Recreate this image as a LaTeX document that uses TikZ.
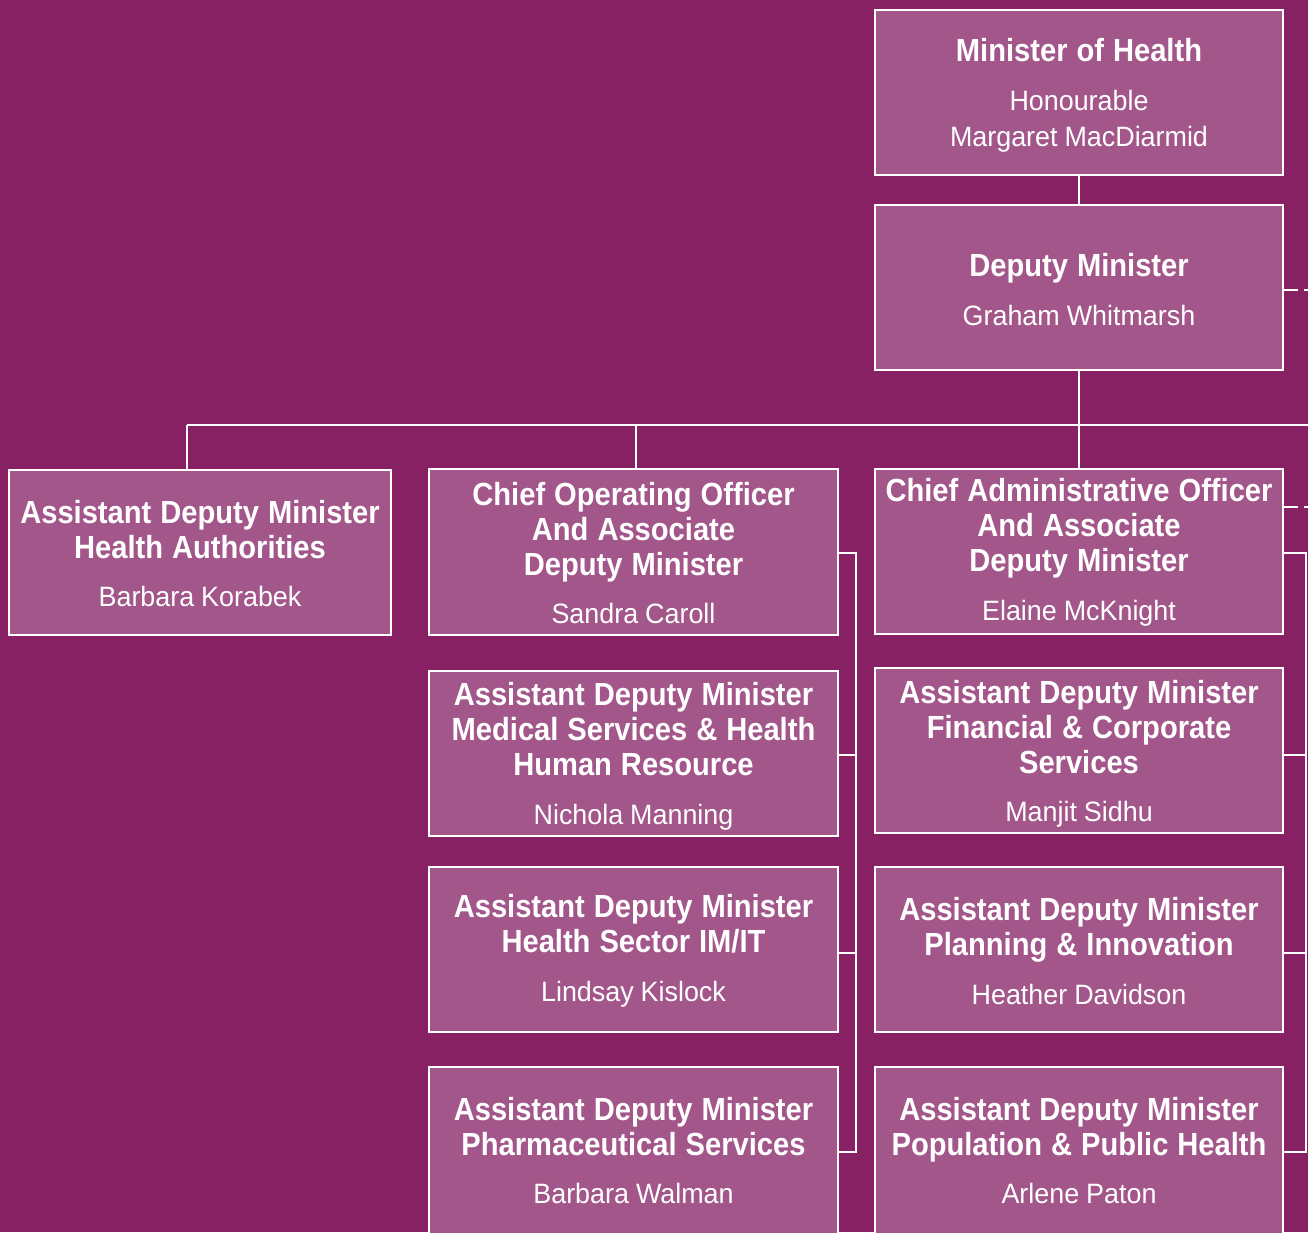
\documentclass[tikz,border=0pt]{standalone}
\usepackage{fontspec}
\setmainfont{Liberation Sans}
\newfontfamily\tfont{Liberation Sans}[FakeStretch=0.91]
\newfontfamily\nfont{Liberation Sans}[FakeStretch=0.96]
\newcommand\ttl{\tfont\bfseries\fontsize{32}{35}\selectfont\spaceskip=9pt\relax}
\newcommand\nm[2][-4pt]{\par\vspace{12.5pt}{\nfont\mdseries\fontsize{28}{36}\selectfont\spaceskip=7pt\relax #2\par}\vspace*{#1}}
\definecolor{bgc}{RGB}{136,32,100}
\definecolor{boxc}{RGB}{163,86,138}
\tikzset{
  orgbox/.style={draw=white, line width=2.5pt, fill=boxc, text=white,
    inner sep=0pt, align=center, text width=#1-4pt, minimum width=#1, minimum height=165pt},
  conn/.style={draw=white, line width=2.5pt},
  dconn/.style={draw=white, line width=2.5pt, dash pattern=on 14pt off 6pt}
}
\begin{document}
\begin{tikzpicture}[x=1pt,y=-1pt]
\fill[bgc] (0,0) rectangle (1308,1232);
\useasboundingbox (0,0) rectangle (1308,1232);

\node[orgbox=408pt] (min) at (1079,92.5) {\ttl Minister of Health\nm[-6pt]{Honourable\\Margaret MacDiarmid}};
\node[orgbox=408pt] (dep) at (1079,287.5) {\ttl Deputy Minister\nm{Graham Whitmarsh}};

\node[orgbox=382pt] (haut) at (200,552.5) {\ttl Assistant Deputy Minister\\Health Authorities\nm[-2pt]{Barbara Korabek}};
\node[orgbox=409pt, minimum height=166pt] (coo) at (633.5,552) {\ttl Chief Operating Officer\\And Associate\\Deputy Minister\nm[-2pt]{Sandra Caroll}};
\node[orgbox=408pt] (cao) at (1079,551.5) {\ttl Chief Administrative Officer\\And Associate\\Deputy Minister\nm[-2pt]{Elaine McKnight}};

\node[orgbox=409pt] (med) at (633.5,753.5) {\ttl Assistant Deputy Minister\\Medical Services \& Health\\Human Resource\nm[-6pt]{Nichola Manning}};
\node[orgbox=409pt] (imit) at (633.5,949.5) {\ttl Assistant Deputy Minister\\Health Sector IM/IT\nm[-3pt]{Lindsay Kislock}};
\node[orgbox=409pt, minimum height=175pt] (pharm) at (633.5,1154.5) {\ttl Assistant Deputy Minister\\Pharmaceutical Services\nm[8pt]{Barbara Walman}};

\node[orgbox=408pt] (fin) at (1079,750.5) {\ttl Assistant Deputy Minister\\Financial \& Corporate\\Services\nm[-7pt]{Manjit Sidhu}};
\node[orgbox=408pt] (plan) at (1079,949.5) {\ttl Assistant Deputy Minister\\Planning \& Innovation\nm[-3pt]{Heather Davidson}};
\node[orgbox=408pt, minimum height=175pt] (pop) at (1079,1154.5) {\ttl Assistant Deputy Minister\\Population \& Public Health\nm[8pt]{Arlene Paton}};

% connectors
\coordinate (b1) at (187,425);
\coordinate (b2) at (636,425);
\coordinate (b3) at (1079,425);
\coordinate (be) at (1312,425);
\draw[conn] (min) -- (dep);
\draw[conn] (dep) -- (b3);
\draw[conn] (b1) -- (be);
\draw[conn] (b1) -- (b1 |- haut.north);
\draw[conn] (b2) -- (b2 |- coo.north);
\draw[conn] (b3) -- (cao);

% dashed links to the right
\coordinate (d1) at (1312,290);
\coordinate (d2) at (1312,507);
\draw[dconn] (dep.east |- d1) -- (d1);
\draw[dconn] (cao.east |- d2) -- (d2);

% left bracket
\coordinate (l1) at (856,553);
\coordinate (l2) at (856,755);
\coordinate (l3) at (856,953);
\coordinate (l4) at (856,1152);
\draw[conn] (coo.east |- l1) -- (l1) -- (l4) -- (pharm.east |- l4);
\draw[conn] (med.east |- l2) -- (l2);
\draw[conn] (imit.east |- l3) -- (l3);

% right bracket
\coordinate (r1) at (1306,553);
\coordinate (r2) at (1306,755);
\coordinate (r3) at (1306,953);
\coordinate (r4) at (1306,1152);
\draw[conn] (cao.east |- r1) -- (r1) -- (r4) -- (pop.east |- r4);
\draw[conn] (fin.east |- r2) -- (r2);
\draw[conn] (plan.east |- r3) -- (r3);
\end{tikzpicture}
\end{document}
